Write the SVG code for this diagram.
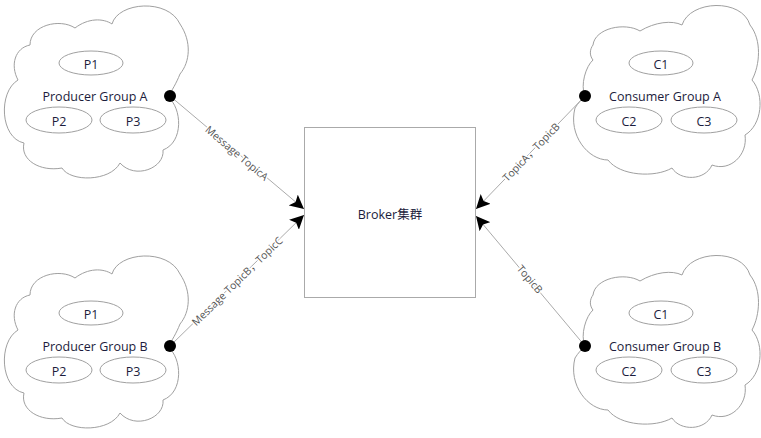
<svg xmlns="http://www.w3.org/2000/svg" xmlns:xlink="http://www.w3.org/1999/xlink" width="761" height="438" viewBox="0 0 761 438">
<style>
.cloud{fill:#fff;stroke:#a0a0a0;stroke-width:1}
.ell{fill:#fff;stroke:#a0a0a0;stroke-width:1}
.t{font-family:"Open Sans","Noto Sans CJK SC",sans-serif;font-size:12.5px;fill:#1c1c3c;text-anchor:middle;dominant-baseline:central}
.lbl{font-family:"Open Sans","Noto Sans CJK SC",sans-serif;font-size:10.5px;fill:#555;text-anchor:middle;dominant-baseline:central;stroke:#fff;stroke-width:3;paint-order:stroke;stroke-linejoin:round}
.conn{stroke:#aaa;stroke-width:1;fill:none;marker-start:url(#dot);marker-end:url(#arr)}
.box{fill:#fff;stroke:#aaa;stroke-width:1}
</style>
<defs>
<marker id="arr" viewBox="0 0 14 14" refX="14" refY="7" markerWidth="14" markerHeight="14" markerUnits="userSpaceOnUse" orient="auto"><path d="M0,0 L14,7 L0,14 L3,7 z" fill="#000"/></marker>
<marker id="dot" viewBox="0 0 12 12" refX="6" refY="6" markerWidth="12" markerHeight="12" markerUnits="userSpaceOnUse"><circle cx="6" cy="6" r="6" fill="#000"/></marker>
<path id="pcloud" d="M30 45 C30 25 60 18 75 28 C88 18 103 18 112 24 C118 2 168 -2 180 24 C192 42 190 62 180 74 C176 84 172 90 168 97 C182 108 184 142 163 150 C165 168 135 180 120 163 C110 182 70 182 62 168 C40 172 20 160 24 143 C0 138 -2 92 18 80 C10 65 15 48 30 45 Z"/>
<path id="ccloud" d="M593 45 C595 28 625 22 640 31 C655 22 672 20 682 25 C690 0 742 -2 750 25 C762 40 760 65 752 80 C765 95 762 125 745 135 C748 155 730 172 712 165 C705 181 680 181 672 168 C655 178 620 176 608 160 C588 160 568 135 575 108 C578 103 582 99 585 96 C580 85 586 66 593 60 C589 55 590 49 593 45 Z"/>
</defs>
<rect width="761" height="438" fill="#fff"/>

<g id="producer-a">
<use xlink:href="#pcloud" class="cloud"/>
<ellipse class="ell" cx="91" cy="63" rx="32" ry="12"/>
<ellipse class="ell" cx="59" cy="120" rx="33" ry="13"/>
<ellipse class="ell" cx="133" cy="120" rx="33" ry="13"/>
<text class="t" x="91" y="64">P1</text>
<text class="t" x="95" y="96">Producer Group A</text>
<text class="t" x="59" y="121">P2</text>
<text class="t" x="133" y="121">P3</text>
</g>

<g id="producer-b" transform="translate(0,250)">
<use xlink:href="#pcloud" class="cloud"/>
<ellipse class="ell" cx="91" cy="63" rx="32" ry="12"/>
<ellipse class="ell" cx="59" cy="120" rx="33" ry="13"/>
<ellipse class="ell" cx="133" cy="120" rx="33" ry="13"/>
<text class="t" x="91" y="64">P1</text>
<text class="t" x="95" y="96">Producer Group B</text>
<text class="t" x="59" y="121">P2</text>
<text class="t" x="133" y="121">P3</text>
</g>

<g id="consumer-a">
<use xlink:href="#ccloud" class="cloud"/>
<ellipse class="ell" cx="661" cy="63" rx="32" ry="12"/>
<ellipse class="ell" cx="629" cy="120" rx="33" ry="13"/>
<ellipse class="ell" cx="704" cy="120" rx="33" ry="13"/>
<text class="t" x="661" y="64">C1</text>
<text class="t" x="665" y="96">Consumer Group A</text>
<text class="t" x="629" y="121">C2</text>
<text class="t" x="704" y="121">C3</text>
</g>

<g id="consumer-b" transform="translate(0,250)">
<use xlink:href="#ccloud" class="cloud"/>
<ellipse class="ell" cx="661" cy="63" rx="32" ry="12"/>
<ellipse class="ell" cx="629" cy="120" rx="33" ry="13"/>
<ellipse class="ell" cx="704" cy="120" rx="33" ry="13"/>
<text class="t" x="661" y="64">C1</text>
<text class="t" x="665" y="96">Consumer Group B</text>
<text class="t" x="629" y="121">C2</text>
<text class="t" x="704" y="121">C3</text>
</g>

<g id="broker">
<rect class="box" x="304.5" y="127.5" width="171" height="170"/>
<text class="t" x="390" y="214">Broker集群</text>
</g>

<g id="connectors">
<line class="conn" x1="170" y1="96" x2="304" y2="209"/>
<line class="conn" x1="170" y1="346" x2="304" y2="215"/>
<line class="conn" x1="585" y1="96" x2="476" y2="209"/>
<line class="conn" x1="585" y1="346" x2="476" y2="216"/>
<text class="lbl" transform="translate(237,153) rotate(40.1)">Message TopicA</text>
<text class="lbl" transform="translate(237,281) rotate(-44.3)">Message TopicB，TopicC</text>
<text class="lbl" transform="translate(531,152) rotate(-46)">TopicA，TopicB</text>
<text class="lbl" transform="translate(530,279) rotate(50)">TopicB</text>
</g>
</svg>
